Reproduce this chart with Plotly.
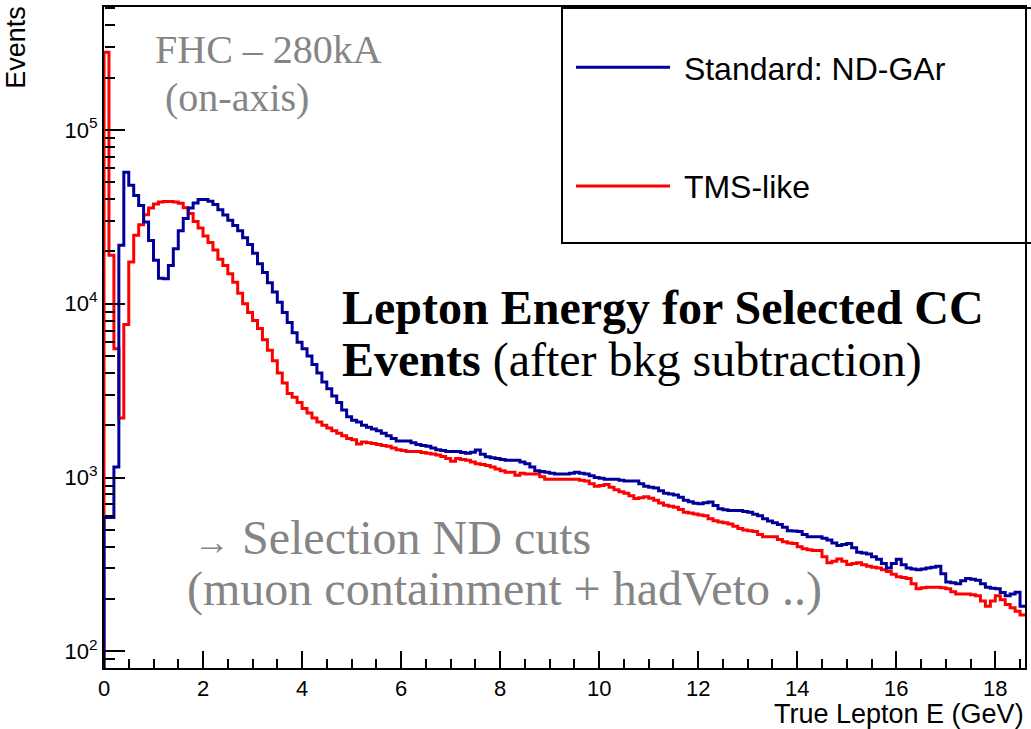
import numpy as np
import plotly.graph_objects as go

# Histogram binning (GeV)
bin_width_gev = 0.1
energy_max_gev = 18.6

# Selected CC events per 0.1 GeV bin of true lepton energy
standard_ndgar = [
    590, 590, 1150, 21700, 57000, 48000, 42000, 36700, 29500, 23100,
    17800, 14000, 13900, 16600, 20700, 26300, 30900, 35500, 38000, 39800,
    39800, 38900, 37200, 34700, 32400, 30200, 28200, 26300, 24000, 21900,
    19500, 17000, 15100, 13200, 11700, 10200, 8900, 7800, 6800, 6000,
    5500, 5000, 4470, 4000, 3550, 3240, 2950, 2700, 2450, 2240,
    2140, 2090, 2000, 1950, 1900, 1862, 1800, 1738, 1680, 1622,
    1622, 1622, 1585, 1549, 1530, 1514, 1480, 1445, 1430, 1413,
    1413, 1413, 1395, 1380, 1400, 1440, 1360, 1318, 1300, 1288,
    1270, 1259, 1259, 1259, 1230, 1202, 1150, 1096, 1085, 1072,
    1060, 1047, 1047, 1047, 1060, 1072, 1060, 1047, 1025, 1000,
    990, 977, 977, 977, 965, 955, 955, 955, 920, 891,
    880, 871, 840, 813, 805, 794, 770, 741, 725, 712,
    708, 716, 724, 690, 661, 652, 646, 646, 646, 638,
    631, 615, 603, 580, 562, 550, 537, 518, 495, 492,
    490, 470, 457, 457, 457, 447, 437, 420, 407, 412,
    417, 395, 372, 368, 363, 350, 339, 320, 302, 320,
    339, 315, 302, 298, 295, 298, 302, 305, 309, 280,
    251, 248, 245, 255, 263, 260, 257, 245, 234, 231,
    229, 218, 209, 214, 219, 182,
]

tms_like = [
    280000, 19000, 5500, 2200, 7600, 17400, 24800, 28500, 32500, 35500,
    37500, 38500, 38700, 38700, 38500, 37800, 35600, 33000, 29700, 27300,
    24500, 22500, 20400, 18000, 16600, 14900, 13300, 11500, 10000, 8900,
    8000, 7200, 6200, 5400, 4700, 4000, 3500, 3050, 2900, 2700,
    2500, 2350, 2200, 2090, 2000, 1930, 1860, 1800, 1740, 1680,
    1650, 1560, 1600, 1585, 1570, 1550, 1530, 1514, 1480, 1445,
    1430, 1413, 1413, 1413, 1395, 1380, 1365, 1349, 1320, 1288,
    1240, 1288, 1270, 1259, 1230, 1202, 1190, 1175, 1150, 1122,
    1095, 1072, 1072, 1030, 1060, 1047, 1047, 1047, 1010, 977,
    977, 977, 977, 977, 977, 977, 965, 955, 920, 891,
    900, 912, 880, 851, 830, 813, 785, 759, 765, 776,
    760, 741, 715, 692, 685, 676, 655, 631, 625, 617,
    610, 603, 580, 565, 555, 550, 540, 525, 510, 500,
    495, 490, 470, 457, 457, 457, 440, 427, 420, 417,
    400, 389, 385, 380, 380, 350, 324, 330, 340, 330,
    316, 320, 324, 315, 309, 305, 302, 295, 288, 278,
    269, 266, 263, 245, 229, 232, 234, 234, 234, 232,
    229, 220, 214, 214, 214, 212, 209, 195, 182, 195,
    209, 198, 186, 178, 170, 162,
]

series_names = ["Standard: ND-GAr", "TMS-like"]
x_tick_values = [0, 2, 4, 6, 8, 10, 12, 14, 16, 18]
y_tick_values = [1e2, 1e3, 1e4, 1e5]
y_tick_text = ["10<sup>2</sup>", "10<sup>3</sup>", "10<sup>4</sup>", "10<sup>5</sup>"]

# ---------------------------------------------------------------------------
W, H = 1031, 729
ML, MR, MT, MB = 104, 4, 7, 61
SANS = "Liberation Sans, Arial, Helvetica, sans-serif"
SERIF = "Liberation Serif, Times New Roman, serif"
GREY = "#858585"
BLUE = "#000099"
RED = "#ff0000"
X_RANGE = [0, energy_max_gev]
Y_RANGE = [1.9045, 5.707]


def px(x):
    return (x - ML) / (W - ML - MR)


def py(y):
    return (H - MB - y) / (H - MT - MB)


edges = np.round(np.arange(len(standard_ndgar) + 1) * bin_width_gev, 3)
floor_value = 10.0  # outline starts from below the visible y range


def outline(counts):
    xs = [edges[0]] + list(edges[:-1]) + [edges[-1]]
    ys = [floor_value] + list(counts) + [counts[-1]]
    return xs, ys


# minor tick positions: every 0.5 GeV, and 2..9 x 10^n on the log axis
x_minor = [v for v in np.round(np.arange(0, energy_max_gev, 0.5), 2) if v % 2]
y_minor = [m * 10 ** e for e in range(1, 6) for m in range(2, 10)]

fig = go.Figure()
for name, counts, colour, rank in [
    (series_names[1], tms_like, RED, 2),
    (series_names[0], standard_ndgar, BLUE, 1),
]:
    xs, ys = outline(counts)
    fig.add_trace(go.Scatter(
        x=xs, y=ys, mode="lines", name="\u00a0" + name,
        line=dict(color=colour, width=3, shape="hv"),
        legendgroup=name, legendrank=rank, hoverinfo="skip",
    ))

# empty carriers so the tick-only axes are drawn
for xa, ya in [("x2", "y2"), ("x3", "y3")]:
    fig.add_trace(go.Scatter(x=[None], y=[None], xaxis=xa, yaxis=ya,
                             showlegend=False, hoverinfo="skip"))

tick_common = dict(tickcolor="black", tickwidth=1.5, showgrid=False,
                   zeroline=False)


# Tick-only axes sitting on the frame edges; their "outside" ticks point
# into the plotting area, giving ROOT-style inward ticks.
def x_ticks_axis(vals, length):
    return dict(overlaying="x", side="top", anchor="free", position=0,
                range=X_RANGE, showline=False, ticks="outside",
                ticklen=length, tickmode="array", tickvals=vals,
                showticklabels=False, **tick_common)


def y_ticks_axis(vals, length):
    return dict(overlaying="y", side="right", anchor="free", position=0,
                type="log", range=Y_RANGE, showline=False, ticks="outside",
                ticklen=length, tickmode="array", tickvals=vals,
                showticklabels=False, **tick_common)


fig.update_layout(
    width=W, height=H,
    margin=dict(l=ML, r=MR, t=MT, b=MB, pad=0),
    paper_bgcolor="white", plot_bgcolor="white",
    showlegend=True,
    legend=dict(
        x=px(572), y=py(40), xanchor="left", yanchor="top",
        font=dict(family=SANS, size=32, color="black"),
        bgcolor="rgba(0,0,0,0)", borderwidth=0,
        itemwidth=94, tracegroupgap=74, traceorder="grouped",
    ),
    xaxis=dict(
        range=X_RANGE,
        showline=True, linecolor="black", linewidth=2, mirror=True,
        ticks="", tickmode="array", tickvals=x_tick_values,
        tickfont=dict(family=SANS, size=22, color="black"),
        **tick_common,
    ),
    yaxis=dict(
        type="log", range=Y_RANGE,
        showline=True, linecolor="black", linewidth=2, mirror=True,
        ticks="", tickmode="array",
        tickvals=y_tick_values, ticktext=y_tick_text,
        tickfont=dict(family=SANS, size=22, color="black"),
        **tick_common,
    ),
    xaxis2=x_ticks_axis(x_tick_values, 17),
    xaxis3=x_ticks_axis(x_minor, 9),
    yaxis2=y_ticks_axis(y_tick_values, 20),
    yaxis3=y_ticks_axis(y_minor, 10),
)

# Legend frame
fig.add_shape(type="rect", xref="paper", yref="paper",
              x0=px(563), x1=px(1045), y0=py(243), y1=py(8),
              line=dict(color="black", width=2), fillcolor="white",
              layer="below")


def note(text, x, y, size, colour="black", family=SERIF, **kw):
    fig.add_annotation(text=text, xref="paper", yref="paper",
                       x=px(x), y=py(y), xanchor="left", yanchor="middle",
                       showarrow=False,
                       font=dict(family=family, size=size, color=colour), **kw)


note("FHC \u2013 280kA", 153, 50, 40, GREY)
note("(on-axis)", 163, 97, 40, GREY)
note("<b>Lepton Energy for Selected CC</b>", 341, 307, 48)
note("<b>Events</b> (after bkg subtraction)", 341, 360, 48)
note("<span style='font-size:36px'>\u2192</span> Selection ND cuts", 192, 537, 48, GREY)
note("(muon containment + hadVeto ..)", 185, 589, 48, GREY)

# Axis titles
fig.add_annotation(text="True Lepton E (GeV)", xref="paper", yref="paper",
                   x=px(1028), y=py(714), xanchor="right", yanchor="middle",
                   showarrow=False,
                   font=dict(family=SANS, size=27, color="black"))
fig.add_annotation(text="Events", xref="paper", yref="paper",
                   x=px(16), y=py(4), xanchor="center", yanchor="top",
                   textangle=-90, showarrow=False,
                   font=dict(family=SANS, size=27, color="black"))

fig.write_html("out.html")
